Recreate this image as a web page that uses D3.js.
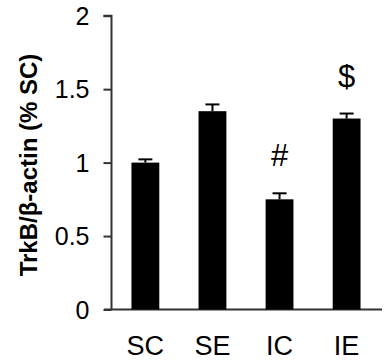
<!DOCTYPE html>
<html lang="en">
  <head>
    <meta charset="utf-8">
    <script type="text/javascript" src="https://cdn.jsdelivr.net/npm/d3@7"></script>
    <style type="text/css">
      body { margin: 0; background: #fff; }
      text { font-family: "Liberation Sans", Arial, sans-serif; fill: #000; }
    </style>
  </head>
  <body>
    <script type="text/javascript">
      // Values
      var groups = ["SC", "SE", "IC", "IE"];
      var means = [1.0, 1.35, 0.75, 1.30];
      var errors = [0.022, 0.046, 0.041, 0.034];
      var marks = ["", "", "#", "$"];
      var yTicks = [0, 0.5, 1, 1.5, 2];

      var w = 384, h = 362;
      var svg = d3.select("body").append("svg")
        .attr("width", w)
        .attr("height", h);

      // Scales
      var yScale = d3.scaleLinear().domain([0, 2]).range([309.5, 15.7]);
      var xScale = d3.scaleBand().domain(groups).range([112, 380]).paddingInner(0.585).paddingOuter(0.29);

      // y axis
      var yAxis = svg.append("g")
        .attr("transform", "translate(111.5,0)")
        .call(d3.axisLeft(yScale).tickValues(yTicks).tickSize(8).tickPadding(14)
          .tickFormat(function(d) { return d; }));
      yAxis.select(".domain").attr("d", "M-8," + yScale(2) + "H0V" + yScale(0))
        .attr("stroke", "#333").attr("stroke-width", 2);
      yAxis.selectAll(".tick line").attr("stroke", "#333").attr("stroke-width", 2);
      yAxis.selectAll(".tick text").style("font-size", "25px").attr("dy", "0.35em");

      // x axis line
      svg.append("line")
        .attr("x1", 104).attr("x2", 382)
        .attr("y1", yScale(0)).attr("y2", yScale(0))
        .attr("stroke", "#333").attr("stroke-width", 2);

      // Bars
      svg.selectAll("rect.bar")
        .data(means)
        .enter()
        .append("rect")
        .attr("class", "bar")
        .attr("x", function(d, i) { return xScale(groups[i]); })
        .attr("width", xScale.bandwidth())
        .attr("y", function(d) { return yScale(d); })
        .attr("height", function(d) { return yScale(0) - yScale(d); })
        .attr("fill", "#000");

      // Error bars (upper only)
      var eb = svg.selectAll("g.err")
        .data(means)
        .enter()
        .append("g")
        .attr("class", "err");
      eb.append("line")
        .attr("x1", function(d, i) { return xScale(groups[i]) + xScale.bandwidth() / 2; })
        .attr("x2", function(d, i) { return xScale(groups[i]) + xScale.bandwidth() / 2; })
        .attr("y1", function(d) { return yScale(d); })
        .attr("y2", function(d, i) { return yScale(d + errors[i]); })
        .attr("stroke", "#000").attr("stroke-width", 2);
      eb.append("line")
        .attr("x1", function(d, i) { return xScale(groups[i]) + xScale.bandwidth() / 2 - 7; })
        .attr("x2", function(d, i) { return xScale(groups[i]) + xScale.bandwidth() / 2 + 7; })
        .attr("y1", function(d, i) { return yScale(d + errors[i]); })
        .attr("y2", function(d, i) { return yScale(d + errors[i]); })
        .attr("stroke", "#000").attr("stroke-width", 2);

      // Significance marks
      svg.selectAll("text.mark")
        .data(marks)
        .enter()
        .append("text")
        .attr("class", "mark")
        .attr("x", function(d, i) { return xScale(groups[i]) + xScale.bandwidth() / 2; })
        .attr("y", function(d, i) { return yScale(means[i] + errors[i]) - 27; })
        .attr("text-anchor", "middle")
        .style("font-size", "31px")
        .text(function(d) { return d; });

      // Category labels
      svg.selectAll("text.cat")
        .data(groups)
        .enter()
        .append("text")
        .attr("class", "cat")
        .attr("x", function(d) { return xScale(d) + xScale.bandwidth() / 2; })
        .attr("y", 355)
        .attr("text-anchor", "middle")
        .style("font-size", "27px")
        .text(function(d) { return d; });

      // Y axis title
      svg.append("text")
        .attr("transform", "translate(37,165) rotate(-90)")
        .attr("text-anchor", "middle")
        .style("font-size", "24px")
        .style("font-weight", "bold")
        .text("TrkB/β-actin (% SC)");
    </script>
  </body>
</html>
